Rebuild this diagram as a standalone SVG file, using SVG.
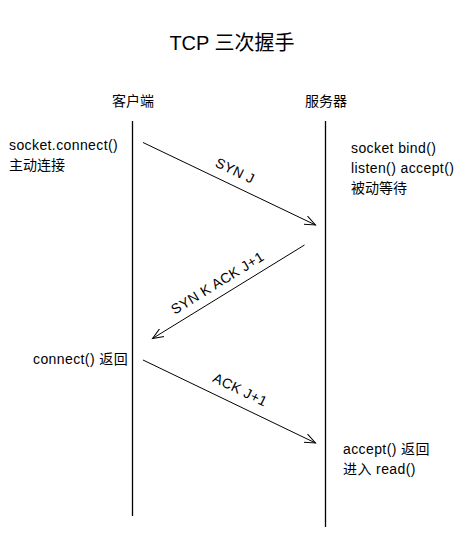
<svg xmlns="http://www.w3.org/2000/svg" width="464" height="547" viewBox="0 0 464 547">
<style>
text{font-family:"Liberation Sans","Noto Sans CJK SC",sans-serif;fill:#000;font-size:14px;letter-spacing:0.4px}
.title{font-size:20px;letter-spacing:0}
.life{stroke:#000;stroke-width:1.3;fill:none}
.msg{stroke:#000;stroke-width:1;fill:none;marker-end:url(#arr)}
</style>
<defs>
<marker id="arr" markerUnits="userSpaceOnUse" markerWidth="14" markerHeight="14" refX="11" refY="5" orient="auto" viewBox="0 0 14 10">
<path d="M0,0.5 L11,5 L0,9.5" fill="none" stroke="#000" stroke-width="1"/>
</marker>
</defs>
<rect width="464" height="547" fill="#fff"/>
<text class="title" x="232" y="50" text-anchor="middle">TCP 三次握手</text>
<g id="client">
<text x="133" y="106" text-anchor="middle" style="letter-spacing:0">客户端</text>
<line class="life" x1="132.5" y1="121" x2="132.5" y2="516"/>
</g>
<g id="server">
<text x="326" y="106" text-anchor="middle" style="letter-spacing:0">服务器</text>
<line class="life" x1="325.5" y1="121" x2="325.5" y2="527"/>
</g>
<g id="client-note1">
<text x="9" y="150">socket.connect()</text>
<text x="9" y="170" style="letter-spacing:0">主动连接</text>
</g>
<g id="server-note1">
<text x="351" y="153">socket bind()</text>
<text x="351" y="173">listen() accept()</text>
<text x="351" y="193" style="letter-spacing:0">被动等待</text>
</g>
<g id="client-note2">
<text x="33" y="364">connect() 返回</text>
</g>
<g id="server-note2">
<text x="343" y="454">accept() 返回</text>
<text x="343" y="474">进入 read()</text>
</g>
<g id="connectors">
<line class="msg" x1="143" y1="142.5" x2="315.5" y2="225"/>
<line class="msg" x1="304.5" y1="245" x2="152.5" y2="338.5"/>
<line class="msg" x1="143" y1="360" x2="315.5" y2="443"/>
<text transform="translate(233,175) rotate(25.6)" text-anchor="middle">SYN J</text>
<text transform="translate(220,287) rotate(-31.6)" text-anchor="middle">SYN K ACK J+1</text>
<text transform="translate(238,394) rotate(25.8)" text-anchor="middle">ACK J+1</text>
</g>
</svg>
